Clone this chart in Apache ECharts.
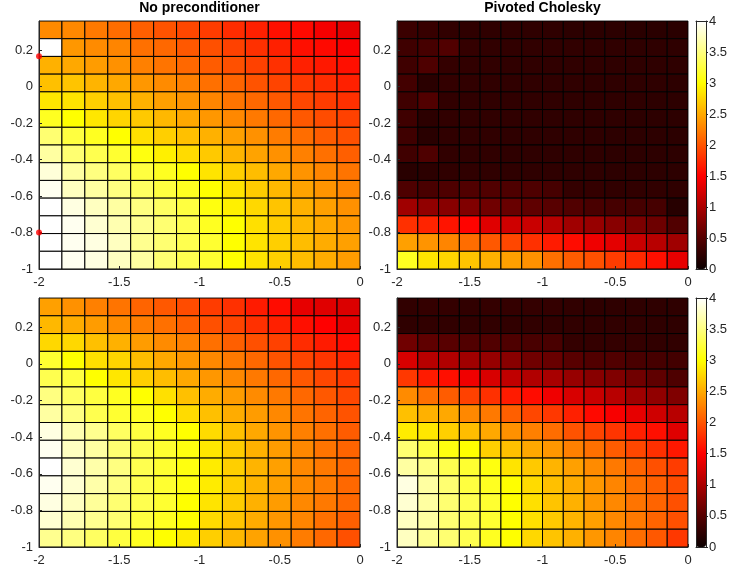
<!DOCTYPE html>
<html>
<head>
<meta charset="utf-8">
<script src="https://cdn.jsdelivr.net/npm/echarts@6/dist/echarts.min.js"></script>
<style>html,body{margin:0;padding:0;background:#fff}#c{width:731px;height:573px}</style>
</head>
<body>
<div id="c"></div>
<script>
// ---- data (rows listed top to bottom, columns left to right) ----
const titles = ['No preconditioner', 'Pivoted Cholesky'];
const xTicks = [-2, -1.5, -1, -0.5, 0];
const yTicks = [-1, -0.8, -0.6, -0.4, -0.2, 0, 0.2];
const colorbarTicks = [0, 0.5, 1, 1.5, 2, 2.5, 3, 3.5, 4];
const xRange = [-2, 0];
const yRange = [-1, 0.36];
const markerPoints = [[-2, 0.167], [-2, -0.8]];

const noPrecTop = [
  [2.31,2.30,2.21,2.14,2.06,1.99,1.92,1.85,1.76,1.69,1.59,1.55,1.44,1.36],
  [4.50,2.39,2.32,2.28,2.16,2.11,2.02,1.97,1.88,1.78,1.69,1.59,1.55,1.47],
  [2.54,2.49,2.42,2.35,2.25,2.18,2.11,2.04,1.97,1.88,1.78,1.69,1.64,1.59],
  [2.63,2.65,2.56,2.49,2.39,2.32,2.25,2.16,2.09,1.99,1.90,1.83,1.76,1.69],
  [2.86,2.84,2.72,2.63,2.54,2.44,2.37,2.28,2.18,2.11,2.02,1.92,1.85,1.78],
  [3.13,3.00,2.86,2.75,2.68,2.58,2.49,2.39,2.30,2.21,2.11,2.02,1.95,1.88],
  [3.44,3.25,3.13,3.00,2.82,2.72,2.63,2.54,2.44,2.35,2.23,2.14,2.04,1.97],
  [3.63,3.44,3.31,3.19,3.06,2.91,2.79,2.68,2.56,2.46,2.35,2.25,2.16,2.06],
  [3.85,3.63,3.50,3.38,3.25,3.13,3.00,2.84,2.72,2.61,2.49,2.37,2.28,2.18],
  [3.94,3.75,3.63,3.50,3.38,3.25,3.13,3.00,2.84,2.70,2.58,2.46,2.37,2.28],
  [4.30,3.88,3.75,3.63,3.50,3.38,3.25,3.06,2.91,2.77,2.65,2.54,2.44,2.35],
  [4.30,3.94,3.82,3.69,3.56,3.44,3.31,3.13,3.00,2.82,2.70,2.58,2.49,2.39],
  [4.50,3.94,3.88,3.75,3.56,3.44,3.31,3.19,3.00,2.84,2.72,2.61,2.51,2.44],
  [4.30,3.94,3.88,3.75,3.63,3.44,3.31,3.19,3.00,2.84,2.72,2.61,2.51,2.42]
];
const cholTop = [
  [0.32,0.30,0.26,0.24,0.24,0.24,0.24,0.24,0.22,0.22,0.22,0.21,0.21,0.21],
  [0.35,0.40,0.47,0.28,0.26,0.26,0.26,0.26,0.26,0.25,0.25,0.24,0.24,0.24],
  [0.35,0.45,0.28,0.26,0.26,0.25,0.25,0.25,0.25,0.25,0.24,0.24,0.24,0.24],
  [0.38,0.21,0.27,0.26,0.25,0.25,0.25,0.25,0.25,0.24,0.24,0.24,0.24,0.23],
  [0.35,0.47,0.26,0.25,0.25,0.25,0.25,0.25,0.24,0.24,0.24,0.24,0.23,0.23],
  [0.35,0.22,0.26,0.25,0.25,0.25,0.25,0.24,0.24,0.24,0.24,0.23,0.23,0.23],
  [0.35,0.20,0.25,0.25,0.25,0.24,0.24,0.24,0.24,0.24,0.23,0.23,0.23,0.22],
  [0.36,0.45,0.26,0.25,0.25,0.24,0.24,0.24,0.24,0.24,0.23,0.23,0.23,0.23],
  [0.20,0.22,0.25,0.25,0.25,0.24,0.24,0.24,0.24,0.24,0.23,0.23,0.23,0.23],
  [0.45,0.42,0.45,0.47,0.47,0.45,0.45,0.40,0.28,0.28,0.26,0.26,0.26,0.24],
  [0.94,0.85,0.80,0.75,0.66,0.61,0.56,0.52,0.47,0.42,0.40,0.40,0.40,0.19],
  [1.78,1.71,1.62,1.52,1.32,1.22,1.18,1.08,0.94,0.89,0.80,0.73,0.64,0.47],
  [2.44,2.37,2.28,2.14,2.02,1.92,1.78,1.66,1.57,1.41,1.34,1.18,1.08,0.94],
  [3.13,2.84,2.75,2.65,2.54,2.44,2.35,2.16,2.04,1.97,1.85,1.74,1.59,1.36]
];
const noPrecBottom = [
  [2.44,2.35,2.25,2.18,2.09,2.02,1.95,1.85,1.78,1.66,1.57,1.36,1.32,1.29],
  [2.58,2.51,2.42,2.32,2.23,2.16,2.06,1.97,1.90,1.78,1.69,1.59,1.50,1.36],
  [2.77,2.77,2.63,2.54,2.42,2.32,2.25,2.16,2.06,1.97,1.88,1.76,1.66,1.57],
  [3.19,3.00,2.82,2.75,2.61,2.49,2.39,2.30,2.21,2.11,1.99,1.90,1.81,1.71],
  [3.31,3.25,3.00,2.86,2.72,2.61,2.49,2.39,2.30,2.21,2.11,2.02,1.92,1.83],
  [3.50,3.38,3.25,3.13,3.00,2.82,2.63,2.51,2.42,2.32,2.21,2.11,2.02,1.92],
  [3.63,3.50,3.31,3.19,3.13,3.00,2.79,2.63,2.51,2.42,2.30,2.18,2.09,1.99],
  [3.88,3.69,3.56,3.38,3.25,3.13,3.00,2.79,2.63,2.49,2.37,2.25,2.16,2.04],
  [3.94,3.75,3.63,3.44,3.31,3.19,3.06,2.86,2.70,2.54,2.42,2.30,2.18,2.09],
  [4.20,3.82,3.66,3.50,3.31,3.19,3.06,2.89,2.72,2.56,2.44,2.30,2.21,2.11],
  [3.94,3.82,3.66,3.50,3.31,3.19,3.06,2.89,2.72,2.56,2.44,2.32,2.23,2.11],
  [3.88,3.75,3.60,3.44,3.31,3.19,3.00,2.84,2.70,2.54,2.42,2.30,2.21,2.11],
  [3.82,3.69,3.56,3.44,3.25,3.13,3.00,2.79,2.65,2.51,2.39,2.28,2.16,2.06],
  [3.56,3.50,3.38,3.25,3.13,3.00,2.89,2.72,2.58,2.46,2.35,2.23,2.11,1.97]
];
const cholBottom = [
  [0.26,0.28,0.28,0.26,0.28,0.28,0.28,0.28,0.26,0.24,0.24,0.24,0.24,0.24],
  [0.24,0.26,0.26,0.26,0.26,0.26,0.26,0.26,0.26,0.26,0.26,0.26,0.24,0.24],
  [0.66,0.56,0.52,0.47,0.47,0.45,0.42,0.42,0.28,0.28,0.28,0.28,0.26,0.26],
  [1.27,1.08,1.04,0.94,0.89,0.80,0.66,0.61,0.52,0.47,0.47,0.42,0.40,0.38],
  [1.83,1.66,1.59,1.41,1.27,1.13,1.04,0.99,0.89,0.80,0.75,0.66,0.56,0.45],
  [2.32,2.16,2.04,1.88,1.78,1.66,1.57,1.41,1.27,1.18,1.08,0.94,0.85,0.75],
  [2.63,2.54,2.49,2.30,2.21,2.06,1.92,1.83,1.69,1.55,1.46,1.36,1.22,1.08],
  [2.89,2.86,2.72,2.61,2.49,2.35,2.25,2.14,1.99,1.90,1.81,1.69,1.59,1.32],
  [3.44,3.25,3.06,3.00,2.72,2.63,2.49,2.39,2.25,2.16,2.04,1.92,1.78,1.64],
  [3.63,3.50,3.31,3.19,3.06,2.84,2.68,2.56,2.44,2.32,2.21,2.09,1.97,1.85],
  [3.88,3.63,3.44,3.25,3.13,3.00,2.79,2.63,2.51,2.39,2.28,2.16,2.06,1.95],
  [3.82,3.63,3.44,3.31,3.19,3.00,2.82,2.65,2.54,2.39,2.30,2.18,2.09,1.97],
  [3.75,3.63,3.44,3.31,3.19,3.00,2.82,2.68,2.56,2.44,2.30,2.21,2.09,1.97],
  [3.75,3.56,3.44,3.31,3.13,3.00,2.77,2.65,2.54,2.39,2.28,2.14,2.02,1.83]
];

// MATLAB "hot" colormap stops
const hotColors = ['#0b0000','#550000','#aa0000','#ff0000','#ff5500','#ffaa00','#ffff00','#ffff80','#ffffff'];

// ---- build cells: [x0, y0, x1, y1, value] ----
function toCells(grid) {
  const nRows = grid.length, nCols = grid[0].length;
  const dx = (xRange[1] - xRange[0]) / nCols;
  const dy = (yRange[1] - yRange[0]) / nRows;
  const out = [];
  grid.forEach((row, r) => {
    row.forEach((v, c) => {
      const x0 = xRange[0] + c * dx, x1 = x0 + dx;
      const y1 = yRange[1] - r * dy, y0 = y1 - dy;
      out.push([x0, y0, x1, y1, v]);
    });
  });
  return out;
}

function renderCell(params, api) {
  const pTL = api.coord([api.value(0), api.value(3)]);
  const pBR = api.coord([api.value(2), api.value(1)]);
  return {
    type: 'rect',
    shape: { x: pTL[0], y: pTL[1], width: pBR[0] - pTL[0], height: pBR[1] - pTL[1] },
    style: { fill: api.visual('color'), stroke: '#000', lineWidth: 1 }
  };
}

const FONT = 'Liberation Sans, Arial, Helvetica, sans-serif';
const AX = '#262626';
const FS = 13;

const plotGrids = [
  { left: 39, top: 21, width: 321, height: 248 },
  { left: 397, top: 21, width: 291, height: 248 },
  { left: 39, top: 298, width: 321, height: 249 },
  { left: 397, top: 298, width: 291, height: 249 }
];
const cbGrids = [
  { left: 696, top: 21, width: 10, height: 248 },
  { left: 696, top: 298, width: 10, height: 249 }
];

const grid = [];
const xAxis = [];
const yAxis = [];
plotGrids.forEach((g, i) => {
  grid.push(Object.assign({ show: true, borderColor: AX, borderWidth: 1, backgroundColor: 'transparent' }, g));
  xAxis.push({
    gridIndex: i, type: 'value', min: xRange[0], max: xRange[1], interval: 0.5, position: 'bottom',
    axisLine: { show: true, onZero: false, lineStyle: { color: AX } },
    axisTick: { show: true, inside: true, length: 3, lineStyle: { color: AX } },
    axisLabel: { color: AX, fontSize: FS, fontFamily: FONT, margin: 7 },
    splitLine: { show: false }, z: 5
  });
  yAxis.push({
    gridIndex: i, type: 'value', min: yRange[0], max: yRange[1], interval: 0.2, position: 'left',
    axisLine: { show: true, onZero: false, lineStyle: { color: AX } },
    axisTick: { show: true, inside: true, length: 3, lineStyle: { color: AX } },
    axisLabel: { color: AX, fontSize: FS, fontFamily: FONT, margin: 6, showMaxLabel: false,
      formatter: v => String(Math.round(v * 10) / 10) },
    splitLine: { show: false }, z: 5
  });
});
cbGrids.forEach((g, k) => {
  const gi = grid.length;
  grid.push(Object.assign({ show: false }, g));
  xAxis.push({ gridIndex: gi, type: 'value', min: 0, max: 1, position: 'bottom', z: 6,
    axisLine: { show: true, onZero: false, lineStyle: { color: AX } }, axisTick: { show: false }, axisLabel: { show: false }, splitLine: { show: false } });
  xAxis.push({ gridIndex: gi, type: 'value', min: 0, max: 1, position: 'top', z: 6,
    axisLine: { show: true, onZero: false, lineStyle: { color: AX } }, axisTick: { show: false }, axisLabel: { show: false }, splitLine: { show: false } });
  yAxis.push({ gridIndex: gi, type: 'value', min: 0, max: 4, interval: 0.5, position: 'right', z: 6,
    axisLine: { show: true, onZero: false, lineStyle: { color: AX } },
    axisTick: { show: true, inside: false, length: 2, lineStyle: { color: AX } },
    axisLabel: { color: AX, fontSize: FS, fontFamily: FONT, margin: 3 },
    splitLine: { show: false } });
  yAxis.push({ gridIndex: gi, type: 'value', min: 0, max: 4, position: 'left', z: 6,
    axisLine: { show: true, onZero: false, lineStyle: { color: AX } }, axisTick: { show: false }, axisLabel: { show: false }, splitLine: { show: false } });
});

const datasets = [noPrecTop, cholTop, noPrecBottom, cholBottom];
const series = datasets.map((d, i) => ({
  type: 'custom', xAxisIndex: i, yAxisIndex: i,
  dimensions: ['x0', 'y0', 'x1', 'y1', 'v'],
  encode: { x: [0, 2], y: [1, 3], tooltip: 4 },
  renderItem: renderCell, data: toCells(d), clip: true, z: 2
}));
series.push({
  type: 'scatter', xAxisIndex: 0, yAxisIndex: 0, data: markerPoints,
  symbol: 'circle', symbolSize: 6, itemStyle: { color: '#ff0000' }, clip: false, z: 10
});

const visualMap = cbGrids.map((g, k) => ({
  type: 'continuous', min: 0, max: 4, dimension: 4, seriesIndex: [2 * k, 2 * k + 1],
  show: true, calculable: false, left: g.left, top: g.top, itemWidth: g.width, itemHeight: g.height,
  padding: 0, text: null, showLabel: false, orient: 'vertical',
  inRange: { color: hotColors }, outOfRange: { color: '#ffffff' }, z: 4
}));

const title = titles.map((t, i) => ({
  text: t, left: plotGrids[i].left + plotGrids[i].width / 2, top: 1, textAlign: 'center', padding: 0,
  textStyle: { fontSize: 14, fontWeight: 'bold', color: '#000', fontFamily: FONT }
}));

const chart = echarts.init(document.getElementById('c'), null, { renderer: 'canvas' });
chart.setOption({ animation: false, backgroundColor: '#fff', title, grid, xAxis, yAxis, visualMap, series });
</script>
</body>
</html>
